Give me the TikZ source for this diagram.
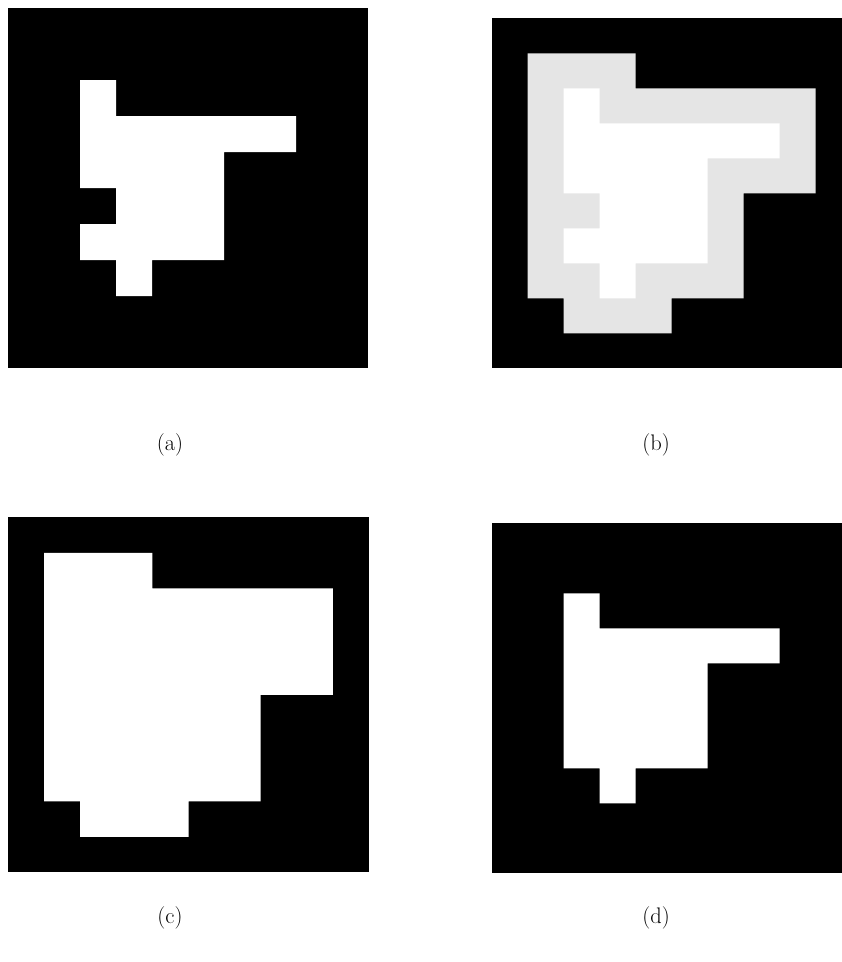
\documentclass[tikz,border=0pt]{standalone}
\usepackage{fontspec}
\definecolor{dilgray}{gray}{0.9}
\tikzset{
  panelbg/.style={fill=black},
  fgshape/.style={fill=white},
  dilshape/.style={fill=dilgray},
  caplabel/.style={font=\fontsize{22.5}{27}\selectfont, inner sep=0pt}
}
\begin{document}
\begin{tikzpicture}[x=1pt,y=-1pt]
\clip (0,0) rectangle (842,962);
\fill[white] (0,0) rectangle (842,962);
% (a)
\begin{scope}[shift={(8pt,-8pt)},x=36pt,y=-36pt]
  \fill[panelbg] (0,0) rectangle (10,10);
  \fill[fgshape] (2,2) -- (3,2) -- (3,3) -- (8,3) -- (8,4) -- (6,4) -- (6,7) -- (4,7) -- (4,8) -- (3,8) -- (3,7) -- (2,7) -- (2,6) -- (3,6) -- (3,5) -- (2,5) -- cycle;
\end{scope}
% (b)
\begin{scope}[shift={(491.7pt,-18.3pt)},x=36pt,y=-35pt]
  \fill[panelbg] (0,0) rectangle (10,10);
  \fill[dilshape] (1,1) -- (4,1) -- (4,2) -- (9,2) -- (9,5) -- (7,5) -- (7,8) -- (5,8) -- (5,9) -- (2,9) -- (2,8) -- (1,8) -- cycle;
  \fill[fgshape] (2,2) -- (3,2) -- (3,3) -- (8,3) -- (8,4) -- (6,4) -- (6,7) -- (4,7) -- (4,8) -- (3,8) -- (3,7) -- (2,7) -- (2,6) -- (3,6) -- (3,5) -- (2,5) -- cycle;
\end{scope}
% (c)
\begin{scope}[shift={(8pt,-517.3pt)},x=36.1pt,y=-35.5pt]
  \fill[panelbg] (0,0) rectangle (10,10);
  \fill[fgshape] (1,1) -- (4,1) -- (4,2) -- (9,2) -- (9,5) -- (7,5) -- (7,8) -- (5,8) -- (5,9) -- (2,9) -- (2,8) -- (1,8) -- cycle;
\end{scope}
% (d)
\begin{scope}[shift={(491.7pt,-523.3pt)},x=36pt,y=-35pt]
  \fill[panelbg] (0,0) rectangle (10,10);
  \fill[fgshape] (2,2) -- (3,2) -- (3,3) -- (8,3) -- (8,4) -- (6,4) -- (6,7) -- (4,7) -- (4,8) -- (3,8) -- (3,7) -- (2,7) -- cycle;
\end{scope}
\node[caplabel] (la) at (170,445) {(a)};
\node[caplabel] (lb) at (656,445) {(b)};
\node[caplabel] (lc) at (170,918) {(c)};
\node[caplabel] (ld) at (656,918) {(d)};
\end{tikzpicture}
\end{document}
